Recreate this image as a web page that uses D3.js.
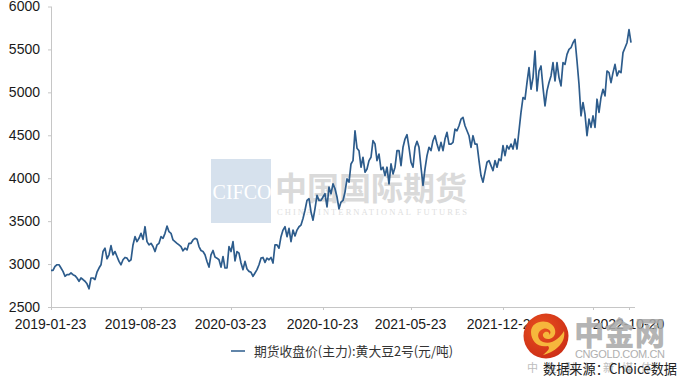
<!DOCTYPE html>
<html><head><meta charset="utf-8">
<script src="https://cdn.jsdelivr.net/npm/d3@7"></script>
<style>html,body{margin:0;padding:0;background:#fff}svg{display:block}</style>
</head><body><div id="chart"></div>
<script>
const closePrice = [
2927,2927,2973,2992,2992,2954,2915,2858,2877,2877,2896,2877,2865,2838,2800,2838,2820,2800,2770,2712,2838,2838,2820,2905,2954,2992,3146,3185,3062,3108,3215,3108,3146,3088,3031,2992,3050,3077,3069,3031,3050,3223,3319,3262,3300,3358,3288,3435,3262,3223,3242,3204,3146,3223,3242,3319,3300,3358,3442,3377,3358,3281,3262,3242,3223,3204,3154,3185,3165,3242,3242,3281,3300,3288,3204,3158,3146,3108,3031,2965,3108,3158,3081,3069,3050,2965,3088,2954,2954,3204,3146,3262,3038,3146,3127,3012,2935,3031,2942,2915,2904,2858,2896,2935,2992,3069,3077,3019,3069,3050,3077,3012,3223,3223,3185,3319,3396,3435,3319,3415,3262,3396,3327,3396,3435,3454,3531,3627,3742,3761,3608,3511,3646,3800,3742,3742,3781,3819,3665,3896,3819,3935,3877,3781,
3644,3722,3741,3838,3992,3954,4166,4205,4553,4350,4320,4128,4244,4070,4108,4205,4244,4437,4400,4205,4282,4100,4128,4031,4128,3934,4166,4050,4128,4321,4321,
4147,4360,4456,4507,4360,4186,4128,4360,4429,4360,4128,3915,4108,4263,4360,4321,4437,4495,4398,4321,4418,4321,4456,4534,4398,4398,4418,4572,4553,4611,4688,4708,4611,4553,4495,4360,4495,4398,4398,4205,4031,3954,4070,4186,4205,4147,4089,4205,4128,4224,4205,4379,4263,4379,4340,4398,4340,4456,4340,4553,
4766,4940,4920,5114,5288,5036,5172,5481,5017,5249,5307,5056,4843,5017,5114,5191,5346,5133,5346,5172,5075,5346,5326,5442,5500,5520,5578,5616,5365,5094,4727,4882,4746,4495,4688,4592,4727,4592,4920,4766,4940,5036,4959,5249,5230,5114,5230,5326,5191,5249,5230,5462,5520,5578,5732,5578
];
const yTicks = [2500,3000,3500,4000,4500,5000,5500,6000];
const xTickIndex = [0,45,90,136,180,226,271,289];
const xTickLabels = ["2019-01-23","2019-08-23","2020-03-23","2020-10-23","2021-05-23","2021-12-23","","2022-10-20"];
const legendLabel = "期货收盘价(主力):黄大豆2号(元/吨)";
const sourceLabel = "数据来源：Choice数据";

const W=680,H=385,cjk='"Noto Sans CJK SC","Noto Sans",sans-serif',lat='"Liberation Sans",Arial,sans-serif';
const svg=d3.select("#chart").append("svg").attr("width",W).attr("height",H).style("background","#fff");
const x=d3.scaleLinear().domain([0,292]).range([51,635]);
const y=d3.scaleLinear().domain([2500,6000]).range([307,6.5]);

// watermark
const wm=svg.append("g");
wm.append("rect").attr("x",211).attr("y",159).attr("width",60).attr("height",64).attr("fill","#d6e1ed");
wm.append("text").attr("x",242).attr("y",199).attr("text-anchor","middle").attr("font-family",'"Liberation Serif",serif').attr("font-size",20).attr("fill","#fff").text("CIFCO");
wm.append("text").attr("x",275).attr("y",200).attr("font-family",cjk).attr("font-weight",700).attr("font-size",32).attr("textLength",192).attr("fill","#dadada").text("中国国际期货");
wm.append("text").attr("x",277).attr("y",215).attr("font-family",'"Liberation Serif",serif').attr("font-size",8.5).attr("textLength",190).attr("fill","#e0e0e0").text("CHINA INTERNATIONAL FUTURES");

// axes
const gy=svg.append("g").attr("transform","translate(51,0)").call(d3.axisLeft(y).tickValues(yTicks).tickSize(3).tickPadding(8).tickFormat(d3.format("d")));
const gx=svg.append("g").attr("transform","translate(0,307)").call(d3.axisBottom(x).tickValues(xTickIndex).tickSize(3).tickPadding(9).tickFormat((d,i)=>xTickLabels[i]));
[gy,gx].forEach(g=>{g.selectAll("path,line").attr("stroke","#c6c6c6");g.selectAll("text").attr("font-family",lat).attr("font-size",14).attr("fill","#1a1a1a");});
gy.select("path").attr("d","M0.5,6.5V307.5");
gx.select("path").attr("d","M51,0.5H635");
gx.selectAll("text").attr("dx",-1);

// series
const line=d3.line().x((d,i)=>x(i)).y(d=>y(d));
svg.append("path").datum(closePrice).attr("d",line).attr("fill","none").attr("stroke","#2d5c8c").attr("stroke-width",1.7).attr("stroke-linejoin","round");

// legend
svg.append("line").attr("x1",231).attr("x2",245).attr("y1",351).attr("y2",351).attr("stroke","#2d5c8c").attr("stroke-width",1.5);
svg.append("text").attr("x",254).attr("y",356).attr("font-family",cjk).attr("font-size",13).attr("textLength",199).attr("lengthAdjust","spacingAndGlyphs").attr("fill","#333").text(legendLabel);

// source under-text
svg.append("text").attr("x",527).attr("y",372).attr("font-family",cjk).attr("font-size",11).attr("fill","#bdbdbd").attr("textLength",125).text("中 金 财 经 新 媒 体");
// source
svg.append("text").attr("x",543).attr("y",374).attr("font-family",cjk).attr("font-size",14).attr("textLength",134).attr("lengthAdjust","spacingAndGlyphs").attr("fill","#222").text(sourceLabel);

// logo
const logo=svg.append("g");
const grad=svg.append("defs").append("radialGradient").attr("id","lg").attr("cx","40%").attr("cy","35%").attr("r","70%");
grad.append("stop").attr("offset","0%").attr("stop-color","#e8501f");
grad.append("stop").attr("offset","100%").attr("stop-color","#cc2d16");
logo.append("circle").attr("cx",546).attr("cy",336).attr("r",22.5).attr("fill","url(#lg)");
logo.append("path").attr("d","M531,332C531,322 544,319 551,324C558,329 556,339 548,339C543,339 541,334 545,332C549,331 550,334 549,335C553,332 548,327 543,329C537,331 536,339 543,342C552,345 560,338 564,331C566,341 558,351 543,355C549,350 550,348 548,346C538,348 531,341 531,332Z").attr("fill","#f6b73c");
logo.append("text").attr("x",574).attr("y",345).attr("font-family",cjk).attr("font-weight",900).attr("font-size",32).attr("textLength",91).attr("lengthAdjust","spacingAndGlyphs").attr("fill","#aaaaaa").attr("fill-opacity",0.88).text("中金网");
logo.append("text").attr("x",575).attr("y",358).attr("font-family",lat).attr("font-size",11).attr("textLength",90).attr("fill","#b0b0b0").text("CNGOLD.COM.CN");
</script></body></html>
